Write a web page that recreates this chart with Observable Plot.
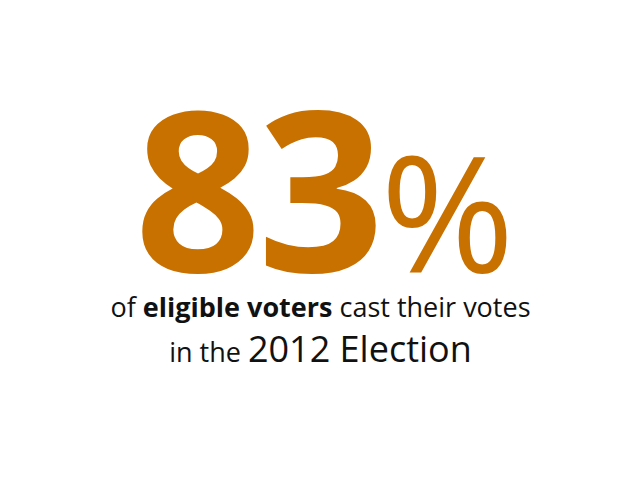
<!DOCTYPE html>
<html>
<head>
<meta charset="utf-8">
<script src="https://cdn.jsdelivr.net/npm/d3@7"></script>
<script src="https://cdn.jsdelivr.net/npm/@observablehq/plot@0.6"></script>
<style>
  body { margin: 0; background: #fff; }
  #chart svg { display: block; }
</style>
</head>
<body>
<div id="chart"></div>
<script>
// the headline number and the caption under it
const headlineValue = 83
const headlineUnit = '%'
const lineKeys = ['headline', 'caption1', 'caption2']
const caption1 = [
  {t: 'of ', bold: false},
  {t: 'eligible voters', bold: true},
  {t: ' cast their votes', bold: false}
]
const caption2 = [
  {t: 'in the ', big: false},
  {t: '2012 Election', big: true}
]

const orange = '#c87100'

// one row per line of text, pieces are turned into tspans after render
const rows = [
  {key: 'headline', label: `${headlineValue}${headlineUnit}`,
   parts: [{t: String(headlineValue), size: 222, weight: 700, ls: -4},
           {t: headlineUnit, size: 162, weight: 400, ls: 0}]},
  {key: 'caption1', label: caption1.map(d => d.t).join(''),
   parts: caption1.map(d => ({t: d.t, size: 27, weight: d.bold ? 700 : 400}))},
  {key: 'caption2', label: caption2.map(d => d.t).join(''),
   parts: caption2.map(d => ({t: d.t, size: d.big ? 36 : 27, weight: 400}))}
]

let chart = Plot.plot({
  width: 640,
  height: 480,
  margin: 0,
  style: {fontFamily: '"Open Sans", sans-serif', background: '#fff'},
  y: {type: 'point', domain: lineKeys, range: [270, 361], padding: 0, axis: null},
  marks: [
    Plot.text(rows, {
      y: 'key',
      text: 'label',
      frameAnchor: 'middle',
      textAnchor: 'middle',
      lineAnchor: 'bottom',
      fill: d => d.key == 'headline' ? orange : '#111'
    })
  ]
})

// swap plain text for styled pieces
d3.select(chart).selectAll('g[aria-label=text] text').each(function (d, i) {
  const row = rows[i]
  const el = d3.select(this)
  el.text(null)
  if (row.key == 'headline') el.attr('dx', 4)
  row.parts.forEach(p => {
    el.append('tspan')
      .attr('font-size', p.size)
      .attr('font-weight', p.weight)
      .attr('letter-spacing', p.ls || null)
      .text(p.t)
  })
})

d3.select('#chart').append(() => chart)
</script>
</body>
</html>
